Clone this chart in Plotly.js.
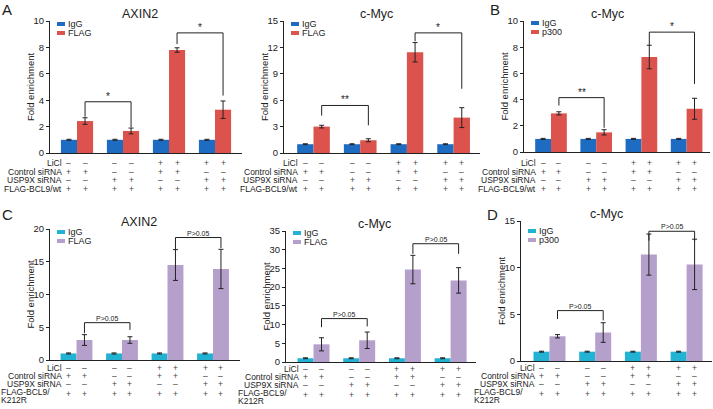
<!DOCTYPE html>
<html>
<head>
<meta charset="utf-8">
<script src="https://cdn.plot.ly/plotly-3.0.1.min.js"></script>
<style>
  html, body { margin: 0; padding: 0; background: #fff; }
  #chart { width: 713px; height: 409px; }
</style>
</head>
<body>
<div id="chart"></div>
<script>
// one position per condition set
const groups = [0, 1, 2, 3];

// conditions table under each chart
const liclRow = ['–', '–', '+', '+'];
const controlRow = ['+', '–', '+', '–'];
const usp9xRow = ['–', '+', '–', '+'];
const bcl9Row = ['+', '+', '+', '+'];
const rowNamesTop = ['LiCl', 'Control siRNA', 'USP9X siRNA', 'FLAG-BCL9/wt'];
const rowNamesBottom = ['LiCl', 'Control siRNA', 'USP9X siRNA', 'FLAG-BCL9/', 'K212R'];

const namesFlag = ['IgG', 'FLAG'];
const namesP300 = ['IgG', 'p300'];
const yTitle = 'Fold enrichment';

// A - AXIN2 (wt)
const axinIgg = [1, 1, 1, 1];
const axinIggErr = [0.04, 0.04, 0.04, 0.04];
const axinFlag = [2.42, 1.67, 7.8, 3.28];
const axinFlagErr = [0.25, 0.22, 0.17, 0.66];
const axinBrackets = [[0, 1, 2.75, 3.88, 1.95, '*'], [2, 3, 8.25, 9.1, 4.35, '*']];

// A - c-Myc (wt)
const mycIgg = [1, 1, 1, 1];
const mycIggErr = [0.05, 0.05, 0.05, 0.05];
const mycFlag = [3.0, 1.45, 11.45, 4.02];
const mycFlagErr = [0.15, 0.17, 1.1, 1.13];
const mycBrackets = [[0, 1, 4.25, 5.4, 3.15, '**'], [2, 3, 12.7, 13.65, 7.3, '*']];

// B - c-Myc p300 (wt)
const p300Igg = [1, 1, 1, 1];
const p300IggErr = [0.04, 0.04, 0.04, 0.04];
const p300Vals = [2.95, 1.5, 7.25, 3.3];
const p300Err = [0.12, 0.2, 0.9, 0.8];
const p300Brackets = [[0, 1, 3.55, 4.15, 1.85, '**'], [2, 3, 8.15, 9.15, 5.2, '*']];

// C - AXIN2 (K212R)
const axinKIgg = [1, 1, 1, 1];
const axinKIggErr = [0.08, 0.08, 0.08, 0.08];
const axinKFlag = [3.05, 3.05, 14.5, 13.9];
const axinKFlagErr = [0.82, 0.5, 2.35, 3.0];
const axinKBrackets = [[0, 1, 4.1, 5.7, 4.6, 'P>0.05'], [2, 3, 16.9, 18.7, 17.1, 'P>0.05']];

// C - c-Myc (K212R)
const mycKIgg = [1, 1, 1, 1];
const mycKIggErr = [0.12, 0.12, 0.12, 0.12];
const mycKFlag = [4.72, 5.8, 24.7, 21.8];
const mycKFlagErr = [1.75, 2.2, 3.8, 3.4];
const mycKBrackets = [[0, 1, 9.3, 11.6, 9.5, 'P>0.05'], [2, 3, 28.9, 31.6, 28.9, 'P>0.05']];

// D - c-Myc p300 (K212R)
const p300KIgg = [1, 1, 1, 1];
const p300KIggErr = [0.05, 0.05, 0.05, 0.05];
const p300KVals = [2.65, 3.05, 11.4, 10.35];
const p300KErr = [0.18, 1.05, 2.2, 2.7];
const p300KBrackets = [[0, 1, 4.5, 5.4, 4.35, 'P>0.05'], [2, 3, 12.9, 13.9, 12.9, 'P>0.05']];

const W = 713, H = 409;
const px = v => v / W;
const py = v => 1 - v / H;

const FONT = 'Liberation Sans, Arial, Helvetica, sans-serif';
const INK = '#222';
const wtColors = ['#1e6cc2', '#dc524d'];
const kColors = ['#22b2d3', '#b5a0cb'];

// pixel boxes of each chart (left, right, top, bottom of the axes)
const topRows = [163, 171.5, 180, 188.5];
const panels = [
  {title: 'AXIN2', letter: 'A', names: namesFlag, colors: wtColors, a: axinIgg, ae: axinIggErr, b: axinFlag, be: axinFlagErr, br: axinBrackets,
   box: [50, 242, 21, 153], c0: 77, step: 46, ymax: 10, dtick: 2, rows: rowNamesTop, rowY: topRows, legY: 24},
  {title: 'c-Myc', names: namesFlag, colors: wtColors, a: mycIgg, ae: mycIggErr, b: mycFlag, be: mycFlagErr, br: mycBrackets,
   box: [284, 480, 21, 153], c0: 313.5, step: 46.7, ymax: 15, dtick: 3, rows: rowNamesTop, rowY: topRows, legY: 24},
  {title: 'c-Myc', letter: 'B', names: namesP300, colors: wtColors, a: p300Igg, ae: p300IggErr, b: p300Vals, be: p300Err, br: p300Brackets,
   box: [524, 710, 21, 152], c0: 551, step: 45.2, ymax: 10, dtick: 2, rows: rowNamesTop, rowY: topRows, legY: 23},
  {title: 'AXIN2', letter: 'C', names: namesFlag, colors: kColors, a: axinKIgg, ae: axinKIggErr, b: axinKFlag, be: axinKFlagErr, br: axinKBrackets,
   box: [50, 240, 229, 360], c0: 76.5, step: 45.5, ymax: 20, dtick: 5, rows: rowNamesBottom, rowY: [368, 376, 384, 392, 400], legY: 232},
  {title: 'c-Myc', names: namesFlag, colors: kColors, a: mycKIgg, ae: mycKIggErr, b: mycKFlag, be: mycKFlagErr, br: mycKBrackets,
   box: [286, 476, 231, 362], c0: 313.5, step: 45.7, ymax: 35, dtick: 5, rows: rowNamesBottom, rowY: [369, 377, 385, 393, 401], legY: 233},
  {title: 'c-Myc', letter: 'D', names: namesP300, colors: kColors, a: p300KIgg, ae: p300KIggErr, b: p300KVals, be: p300KErr, br: p300KBrackets,
   box: [521, 712, 221, 361], c0: 549.5, step: 45.7, ymax: 15, dtick: 5, rows: rowNamesBottom, rowY: [368, 376, 384, 392, 400], legY: 231}
];

const data = [];
const annotations = [];
const shapes = [];
const layout = {
  width: W, height: H,
  margin: {l: 0, r: 0, t: 0, b: 0},
  paper_bgcolor: '#fff', plot_bgcolor: 'rgba(0,0,0,0)',
  font: {family: FONT, color: INK, size: 9},
  barmode: 'group', bargap: 0.3, bargroupgap: 0,
  showlegend: false
};

const half = 0.175; // half of one bar slot in group units
const signRows = [liclRow, controlRow, usp9xRow, bcl9Row];

function note(o) {
  return Object.assign({showarrow: false, borderpad: 0, xanchor: 'center', yanchor: 'middle'}, o);
}

panels.forEach((p, i) => {
  const n = i === 0 ? '' : String(i + 1);
  const xa = 'x' + n, ya = 'y' + n;
  const [l, r, t, b] = p.box;

  layout['xaxis' + n] = {
    domain: [px(l), px(r)], anchor: ya,
    range: [(l - p.c0) / p.step, (r - p.c0) / p.step],
    showline: true, linecolor: INK, linewidth: 1,
    showticklabels: false, ticks: '', showgrid: false, zeroline: false, fixedrange: true
  };
  layout['yaxis' + n] = {
    domain: [py(b), py(t)], anchor: xa,
    range: [0, p.ymax], dtick: p.dtick, tick0: 0,
    showline: true, linecolor: INK, linewidth: 1,
    ticks: 'outside', ticklen: 3, tickwidth: 1, tickcolor: INK,
    tickfont: {size: 9.5, color: INK},
    showgrid: false, zeroline: false, fixedrange: true
  };

  const errStyle = {type: 'data', visible: true, color: INK, thickness: 1, width: 2.5};
  data.push({type: 'bar', name: p.names[0], x: groups, y: p.a, xaxis: xa, yaxis: ya,
    marker: {color: p.colors[0]}, error_y: Object.assign({array: p.ae}, errStyle)});
  data.push({type: 'bar', name: p.names[1], x: groups, y: p.b, xaxis: xa, yaxis: ya,
    marker: {color: p.colors[1]}, error_y: Object.assign({array: p.be}, errStyle)});

  // y axis title
  annotations.push(note({text: yTitle, xref: 'paper', yref: 'paper', x: px(l - 20), y: py((t + b) / 2),
    textangle: -90, font: {size: 9.5, color: INK}}));

  // chart title and panel letter
  annotations.push(note({text: p.title, xref: 'paper', yref: 'paper', x: px((l + r) / 2 + (i % 3 === 2 ? -10 : -6)),
    y: py(t - 7), font: {size: 12.5, color: INK}}));
  if (p.letter) {
    annotations.push(note({text: p.letter, xref: 'paper', yref: 'paper', x: px(i % 3 === 2 ? l - 35 : 1),
      y: py(i < 3 ? 9 : 214), xanchor: 'left', font: {size: 15, color: INK}}));
  }

  // legend: swatch + name
  p.names.forEach((nm, k) => {
    const yy = p.legY + k * 9;
    shapes.push({type: 'rect', xref: 'paper', yref: 'paper', x0: px(l + 7), x1: px(l + 15), y0: py(yy - 2), y1: py(yy + 2),
      fillcolor: p.colors[k], line: {width: 0}});
    annotations.push(note({text: nm, xref: 'paper', yref: 'paper', x: px(l + 17), y: py(yy), xanchor: 'left',
      font: {size: 9, color: INK}}));
  });

  // significance brackets
  p.br.forEach(([g1, g2, yl, yt, yr, lab]) => {
    const x1 = g1 + half, x2 = g2 + half;
    shapes.push({type: 'path', xref: xa, yref: ya, path: `M${x1},${yl}V${yt}H${x2}V${yr}`,
      line: {color: INK, width: 1}});
    const star = lab.indexOf('*') === 0;
    annotations.push(note({text: lab, xref: xa, yref: ya, x: (x1 + x2) / 2, y: yt, yanchor: 'bottom',
      yshift: star ? -1 : 0, font: {size: star ? 10 : 7, color: INK}}));
  });

  // conditions table
  const firstCol = p.c0 - half * p.step;
  const labelLeft = Math.max(firstCol - 69, 0);
  p.rows.forEach((name, ri) => {
    const wrapped = ri >= 3 && p.rows.length > 4;
    annotations.push(note({text: name, xref: 'paper', yref: 'paper',
      x: wrapped ? px(labelLeft) : px(firstCol - 6), y: py(p.rowY[ri]),
      xanchor: wrapped ? 'left' : 'right', font: {size: 8.5, color: INK}}));
    if (ri >= signRows.length) return;
    groups.forEach(g => {
      [-half, half].forEach(off => {
        annotations.push(note({text: signRows[ri][g], xref: xa, yref: 'paper', x: g + off,
          y: py(p.rowY[ri] + (wrapped ? 2 : 0)), font: {size: 8.5, color: '#444'}}));
      });
    });
  });
});

layout.annotations = annotations;
layout.shapes = shapes;

Plotly.newPlot('chart', data, layout, {staticPlot: true, displayModeBar: false});
</script>
</body>
</html>
